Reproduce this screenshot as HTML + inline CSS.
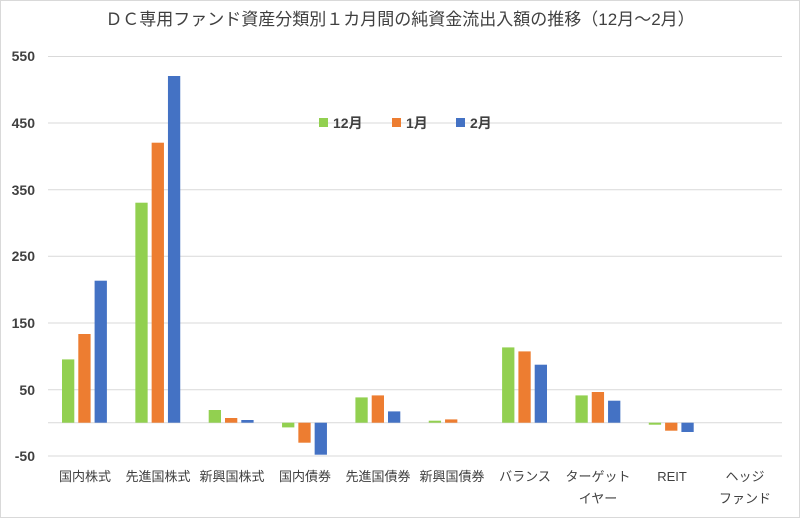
<!DOCTYPE html>
<html><head><meta charset="utf-8"><style>
body{margin:0;background:#fff}
svg text{font-family:"Liberation Sans","Noto Sans CJK JP",sans-serif;fill:#404040}
</style></head><body>
<svg width="800" height="518" xmlns="http://www.w3.org/2000/svg">
<rect x="0.5" y="0.5" width="799" height="517" fill="#fff" stroke="#d9d9d9"/>
<text x="400" y="25" font-size="17" text-anchor="middle" fill="#595959">ＤＣ専用ファンド資産分類別１カ月間の純資金流出入額の推移（12月～2月）</text>
<g stroke="#d9d9d9" stroke-width="1">
<line x1="48" x2="782" y1="56.5" y2="56.5"/>
<line x1="48" x2="782" y1="123" y2="123"/>
<line x1="48" x2="782" y1="189.7" y2="189.7"/>
<line x1="48" x2="782" y1="256.3" y2="256.3"/>
<line x1="48" x2="782" y1="323" y2="323"/>
<line x1="48" x2="782" y1="389.7" y2="389.7"/>
<line x1="48" x2="782" y1="422.7" y2="422.7"/>
<line x1="48" x2="782" y1="456" y2="456"/>
</g>
<g font-size="14" font-weight="bold" text-anchor="end">
<text x="35" y="61">550</text><text x="35" y="128">450</text><text x="35" y="195">350</text>
<text x="35" y="261">250</text><text x="35" y="328">150</text><text x="35" y="395">50</text><text x="35" y="461">-50</text>
</g>
<g fill="#92d050">
<rect x="62" y="359.4" width="12.3" height="63.3"/>
<rect x="135.35" y="202.7" width="12.3" height="220"/>
<rect x="208.7" y="410" width="12.3" height="12.7"/>
<rect x="282.05" y="422.7" width="12.3" height="4.7"/>
<rect x="355.4" y="397.4" width="12.3" height="25.3"/>
<rect x="428.75" y="420.7" width="12.3" height="2"/>
<rect x="502.1" y="347.4" width="12.3" height="75.3"/>
<rect x="575.45" y="395.4" width="12.3" height="27.3"/>
<rect x="648.8" y="422.7" width="12.3" height="2"/>
</g>
<g fill="#ed7d31">
<rect x="78.3" y="334" width="12.3" height="88.7"/>
<rect x="151.65" y="142.7" width="12.3" height="280"/>
<rect x="225" y="418" width="12.3" height="4.7"/>
<rect x="298.35" y="422.7" width="12.3" height="20"/>
<rect x="371.7" y="395.4" width="12.3" height="27.3"/>
<rect x="445.05" y="419.4" width="12.3" height="3.3"/>
<rect x="518.4" y="351.4" width="12.3" height="71.3"/>
<rect x="591.75" y="392" width="12.3" height="30.7"/>
<rect x="665.1" y="422.7" width="12.3" height="8"/>
</g>
<g fill="#4472c4">
<rect x="94.6" y="280.7" width="12.3" height="142"/>
<rect x="167.95" y="76" width="12.3" height="346.7"/>
<rect x="241.3" y="420" width="12.3" height="2.7"/>
<rect x="314.65" y="422.7" width="12.3" height="32"/>
<rect x="388" y="411.4" width="12.3" height="11.3"/>
<rect x="534.7" y="364.7" width="12.3" height="58"/>
<rect x="608.05" y="400.7" width="12.3" height="22"/>
<rect x="681.4" y="422.7" width="12.3" height="9.3"/>
</g>
<g font-size="13" text-anchor="middle">
<text x="85" y="481">国内株式</text><text x="158" y="481">先進国株式</text><text x="232" y="481">新興国株式</text>
<text x="305" y="481">国内債券</text><text x="378" y="481">先進国債券</text><text x="452" y="481">新興国債券</text>
<text x="525" y="481">バランス</text><text x="598" y="481">ターゲット</text><text x="598" y="503">イヤー</text>
<text x="672" y="481">REIT</text><text x="745" y="481">ヘッジ</text><text x="745" y="503">ファンド</text>
</g>
<g font-size="14" font-weight="bold">
<rect x="319" y="118" width="9" height="9" fill="#92d050"/><text x="333" y="128">12月</text>
<rect x="392" y="118" width="9" height="9" fill="#ed7d31"/><text x="406" y="128">1月</text>
<rect x="456" y="118" width="9" height="9" fill="#4472c4"/><text x="470" y="128">2月</text>
</g>
</svg>
</body></html>
